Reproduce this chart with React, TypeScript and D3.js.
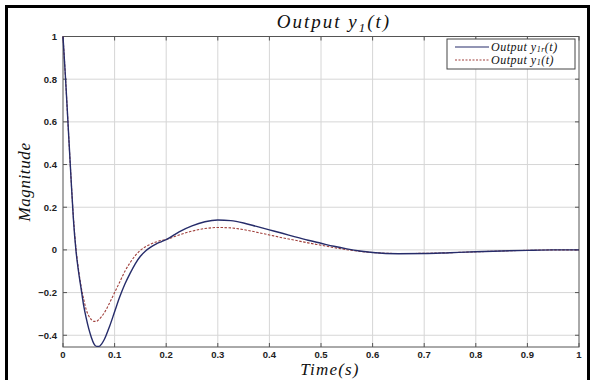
import React, { useEffect, useRef } from 'react';
import * as d3 from 'd3';

// time samples (s)
const timeSolid = [0, 0.005, 0.01, 0.015, 0.02, 0.025, 0.03, 0.035, 0.04, 0.045, 0.05, 0.055, 0.06, 0.065, 0.07, 0.075, 0.08, 0.09, 0.1, 0.11, 0.12, 0.13, 0.14, 0.15, 0.16, 0.17, 0.18, 0.19, 0.2, 0.225, 0.25, 0.275, 0.3, 0.325, 0.35, 0.375, 0.4, 0.425, 0.45, 0.475, 0.5, 0.525, 0.55, 0.575, 0.6, 0.65, 0.7, 0.75, 0.8, 0.85, 0.9, 0.95, 1];
const valSolid = [1, 0.8, 0.58, 0.36, 0.15, 0.0, -0.1, -0.18, -0.26, -0.32, -0.37, -0.41, -0.44, -0.452, -0.452, -0.44, -0.42, -0.36, -0.29, -0.22, -0.16, -0.11, -0.065, -0.03, -0.005, 0.013, 0.027, 0.038, 0.048, 0.085, 0.113, 0.132, 0.14, 0.137, 0.126, 0.11, 0.094, 0.078, 0.061, 0.045, 0.031, 0.017, 0.005, -0.005, -0.012, -0.018, -0.017, -0.013, -0.009, -0.005, -0.002, 0, 0];

const timeDashed = [0, 0.005, 0.01, 0.015, 0.02, 0.025, 0.03, 0.035, 0.04, 0.045, 0.05, 0.055, 0.06, 0.065, 0.07, 0.08, 0.09, 0.1, 0.11, 0.12, 0.13, 0.14, 0.15, 0.16, 0.17, 0.18, 0.19, 0.2, 0.225, 0.25, 0.275, 0.3, 0.325, 0.35, 0.375, 0.4, 0.425, 0.45, 0.475, 0.5, 0.525, 0.55, 0.575, 0.6, 0.65, 0.7, 0.75, 0.8, 0.85, 0.9, 0.95, 1];
const valDashed = [1, 0.8, 0.58, 0.36, 0.16, 0.01, -0.09, -0.17, -0.23, -0.28, -0.31, -0.327, -0.335, -0.335, -0.325, -0.295, -0.25, -0.2, -0.15, -0.1, -0.06, -0.027, -0.002, 0.015, 0.027, 0.037, 0.044, 0.049, 0.07, 0.088, 0.1, 0.105, 0.103, 0.095, 0.083, 0.07, 0.057, 0.045, 0.033, 0.022, 0.011, 0.001, -0.007, -0.012, -0.017, -0.016, -0.013, -0.009, -0.005, -0.002, 0, 0];

const xTicks = [0, 0.1, 0.2, 0.3, 0.4, 0.5, 0.6, 0.7, 0.8, 0.9, 1];
const yTicks = [-0.4, -0.2, 0, 0.2, 0.4, 0.6, 0.8, 1];
const legendLabels = [['Output y', '1r', '(t)'], ['Output y', '1', '(t)']];

const W = 592;
const H = 380;

const App = () => {
    const ref = useRef(null);

    useEffect(() => {
        const svg = d3.select(ref.current);
        svg.selectAll('*').remove();

        const left = 63, right = 579, top = 36.5, bottom = 347;
        const x = d3.scaleLinear().domain([0, 1]).range([left, right]);
        const y = d3.scaleLinear().domain([-0.455, 1]).range([bottom, top]);

        svg.append('rect').attr('width', W).attr('height', H).attr('fill', 'white');

        // outer frame
        svg.append('rect')
            .attr('x', 6.5).attr('y', 6.5)
            .attr('width', 582).attr('height', 400)
            .attr('fill', 'none').attr('stroke', '#000').attr('stroke-width', 3);

        // grid
        svg.append('g').selectAll('line').data(xTicks.slice(1, -1)).enter().append('line')
            .attr('x1', d => x(d)).attr('x2', d => x(d))
            .attr('y1', top).attr('y2', bottom)
            .attr('stroke', '#d6d6d6').attr('stroke-width', 1);
        svg.append('g').selectAll('line').data(yTicks).enter().append('line')
            .attr('x1', left).attr('x2', right)
            .attr('y1', d => y(d)).attr('y2', d => y(d))
            .attr('stroke', '#d6d6d6').attr('stroke-width', 1);

        // box
        svg.append('rect')
            .attr('x', left).attr('y', top)
            .attr('width', right - left).attr('height', bottom - top)
            .attr('fill', 'none').attr('stroke', '#555').attr('stroke-width', 1);

        // inward ticks on all sides
        const tk = 4;
        const tg = svg.append('g').attr('stroke', '#555').attr('stroke-width', 1);
        xTicks.forEach(t => {
            tg.append('line').attr('x1', x(t)).attr('x2', x(t)).attr('y1', bottom).attr('y2', bottom - tk);
            tg.append('line').attr('x1', x(t)).attr('x2', x(t)).attr('y1', top).attr('y2', top + tk);
        });
        yTicks.forEach(t => {
            tg.append('line').attr('x1', left).attr('x2', left + tk).attr('y1', y(t)).attr('y2', y(t));
            tg.append('line').attr('x1', right).attr('x2', right - tk).attr('y1', y(t)).attr('y2', y(t));
        });

        // tick labels
        const fmt = (d: number) => (d === 0 || d === 1 ? String(d) : d3.format('.1f')(d));
        svg.append('g').selectAll('text').data(xTicks).enter().append('text')
            .attr('x', d => x(d)).attr('y', 358)
            .attr('text-anchor', 'middle')
            .style('font-family', 'Arial, Liberation Sans, sans-serif')
            .style('font-size', '9.5px').style('font-weight', 'bold').attr('fill', '#222')
            .text(fmt);
        svg.append('g').selectAll('text').data(yTicks).enter().append('text')
            .attr('x', 57).attr('y', d => y(d) + 3.5)
            .attr('text-anchor', 'end')
            .style('font-family', 'Arial, Liberation Sans, sans-serif')
            .style('font-size', '9.5px').style('font-weight', 'bold').attr('fill', '#222')
            .text(fmt);

        // lines
        const line = d3.line<[number, number]>()
            .x(d => x(d[0])).y(d => y(d[1]))
            .curve(d3.curveMonotoneX);
        svg.append('path')
            .datum(timeDashed.map((t, i) => [t, valDashed[i]] as [number, number]))
            .attr('d', line).attr('fill', 'none')
            .attr('stroke', '#a0403c').attr('stroke-width', 1.1)
            .attr('stroke-dasharray', '2.5,1.5');
        svg.append('path')
            .datum(timeSolid.map((t, i) => [t, valSolid[i]] as [number, number]))
            .attr('d', line).attr('fill', 'none')
            .attr('stroke', '#262c6a').attr('stroke-width', 1.4);

        const serif = '"Liberation Serif", "DejaVu Serif", serif';
        // main text, lowered subscript, then back to baseline
        const mathText = (g, parts, shift, subSize) => {
            g.append('tspan').text(parts[0]);
            g.append('tspan').attr('font-size', subSize).attr('dy', shift).text(parts[1]);
            g.append('tspan').attr('dy', -shift).text(parts[2]);
        };

        // title
        const title = svg.append('text')
            .attr('x', 334).attr('y', 28)
            .attr('text-anchor', 'middle')
            .style('font-family', serif).style('font-style', 'italic')
            .style('font-size', '19px').style('letter-spacing', '2px')
            .attr('fill', '#111');
        mathText(title, ['Output y', '1', '(t)'], 4, 13);

        // axis labels
        svg.append('text')
            .attr('x', 330).attr('y', 375)
            .attr('text-anchor', 'middle')
            .style('font-family', serif).style('font-style', 'italic')
            .style('font-size', '17px').style('letter-spacing', '1.2px')
            .attr('fill', '#111')
            .text('Time(s)');
        svg.append('text')
            .attr('transform', 'translate(30,182) rotate(-90)')
            .attr('text-anchor', 'middle')
            .style('font-family', serif).style('font-style', 'italic')
            .style('font-size', '17px').style('letter-spacing', '0.6px')
            .attr('fill', '#111')
            .text('Magnitude');

        // legend
        const lg = svg.append('g');
        lg.append('rect')
            .attr('x', 447).attr('y', 39).attr('width', 128).attr('height', 30)
            .attr('fill', 'white').attr('stroke', '#444').attr('stroke-width', 1);
        const styles = [
            { stroke: '#262c6a', dash: null, w: 1.2 },
            { stroke: '#a0403c', dash: '2,1.5', w: 1.1 },
        ];
        legendLabels.forEach((lab, i) => {
            const ly = 47 + i * 13;
            lg.append('line')
                .attr('x1', 455).attr('x2', 489).attr('y1', ly).attr('y2', ly)
                .attr('stroke', styles[i].stroke).attr('stroke-width', styles[i].w)
                .attr('stroke-dasharray', styles[i].dash);
            const t = lg.append('text')
                .attr('x', 491).attr('y', ly + 3.5)
                .style('font-family', serif).style('font-style', 'italic')
                .style('font-size', '12px').style('letter-spacing', '0.5px').attr('fill', '#111');
            mathText(t, lab, 1.5, 8);
        });
    }, []);

    return (
        <svg ref={ref} width={W} height={H} style={{ position: 'absolute', left: 0, top: 0 }} />
    );
};

export default App;
